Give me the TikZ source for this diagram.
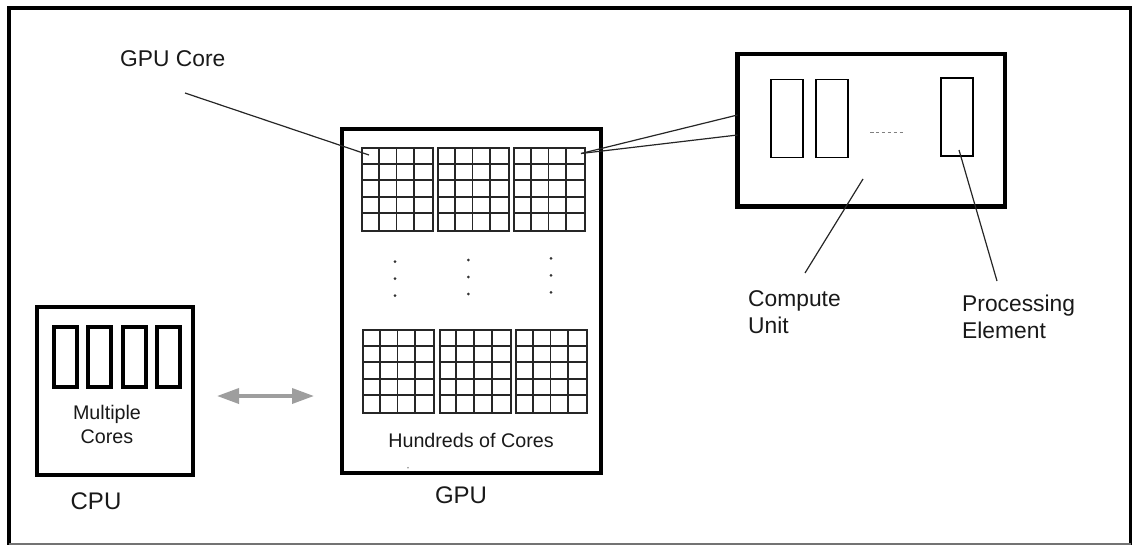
\documentclass[tikz,border=0pt]{standalone}
\usepackage{fontspec}
\setmainfont{Liberation Sans}
\usetikzlibrary{arrows.meta}

\newcommand\fcap{\fontsize{24}{28}\selectfont}
\newcommand\flbl{\fontsize{22.8}{27}\selectfont}
\newcommand\fsml{\fontsize{19.7}{24}\selectfont}

% one block of 4 x 5 GPU cores
\newcommand\coregrid[3]{%
  \node[gridbox, anchor=north west] (#1) at (#2,#3) {};
  \foreach \i in {1,2,3}
    \draw[gl] ([xshift=\i*17.75pt]#1.north west) -- ([xshift=\i*17.75pt]#1.south west);
  \foreach \j in {1,...,4}
    \draw[gl] ([yshift=-\j*16.6pt]#1.north west) -- ([yshift=-\j*16.6pt]#1.north east);
}

\begin{document}
\begin{tikzpicture}[x=1pt,y=-1pt,
  box/.style={draw, line width=4.2, inner sep=0, outer sep=0},
  cpucore/.style={draw, line width=3.5, inner sep=0, minimum width=23, minimum height=60},
  pe/.style={draw, line width=1.6, inner sep=0, minimum width=32, minimum height=78},
  gridbox/.style={draw=black!85, line width=2, inner sep=0, minimum width=71, minimum height=83},
  gl/.style={draw=black!85, line width=1.9},
  lead/.style={draw=black!85, line width=1.2},
  lbl/.style={inner sep=0, text=black!90},
  vdot/.style={fill=black!80},
  link/.style={draw=black!38, line width=3.5,
    {Triangle[length=22pt,width=15pt]}-{Triangle[length=22pt,width=15pt]}}
]
\useasboundingbox (0,0) rectangle (1133,546);

% outer frame
\draw[line width=4] (7,8) -- (1132,8);
\draw[line width=4] (9,6) -- (9,545);
\draw[line width=2.6] (1130.5,6) -- (1130.5,545);
\draw[line width=1.2, black!55] (9,544) -- (1131,544);

% CPU
\node[box, minimum width=156, minimum height=168] (cpu) at (115,391) {};
\node[cpucore] (c1) at (65.5,357) {};
\node[cpucore] (c2) at (99.5,357) {};
\node[cpucore] (c3) at (134.5,357) {};
\node[cpucore] (c4) at (168.5,357) {};
\node[lbl, font=\fsml, align=center, anchor=base] (mc) at (107,443) {Multiple\\Cores};
\node[lbl, font=\fcap, anchor=base] (cpulbl) at (96,509) {CPU};

% GPU
\node[box, minimum width=259, minimum height=344] (gpu) at (471.5,301) {};
\coregrid{g1}{361}{147}
\coregrid{g2}{437}{147}
\coregrid{g3}{513}{147}
\coregrid{g4}{362}{329}
\coregrid{g5}{438.5}{329}
\coregrid{g6}{515}{329}
\foreach \x/\y in {395/261.7, 468.3/260, 551/258.3}
  \foreach \k in {0,1,2}
    \fill[vdot] (\x,\y+\k*17) circle (1.5);
\fill[black!45] (408,467.7) circle (0.9);
\node[lbl, font=\fsml, anchor=base] (hc) at (471,447) {Hundreds of Cores};
\node[lbl, font=\fcap, anchor=base] (gpulbl) at (461,503) {GPU};

% CPU <-> GPU
\coordinate (aL) at (217,396);
\coordinate (aR) at (314,396);
\draw[link] (aL) -- (aR);

% compute unit
\node[box, line width=4.6, minimum width=267.5, minimum height=152.5] (cu) at (871.25,130.25) {};
\node[pe] (pe1) at (786.7,118.5) {};
\node[pe] (pe2) at (831.8,118.5) {};
\node[pe] (pe3) at (956.7,117.2) {};
\draw[black!50, line width=1.2, dash pattern=on 3.5pt off 2.4pt] (870,132.7) -- (905,132.7);

% labels and leaders
\node[lbl, font=\flbl, anchor=base west] (gclbl) at (120,66) {GPU Core};
\coordinate (gcA) at (185,93);
\coordinate (gcB) at (369,155);
\draw[lead] (gcA) -- (gcB);

\coordinate (g3c) at (581,153.5);
\draw[lead] (g3c) -- ([yshift=15.25pt]cu.west);
\draw[lead] (g3c) -- ([yshift=-4.75pt]cu.west);

\node[lbl, font=\flbl, align=left, anchor=base west] (culbl) at (748,333) {Compute\\Unit};
\coordinate (cuA) at (863,179);
\coordinate (cuB) at (805,273);
\draw[lead] (cuA) -- (cuB);

\node[lbl, font=\flbl, align=left, anchor=base west] (pelbl) at (962,338) {Processing\\Element};
\coordinate (peA) at (959,150);
\coordinate (peB) at (997,281);
\draw[lead] (peA) -- (peB);
\end{tikzpicture}
\end{document}
